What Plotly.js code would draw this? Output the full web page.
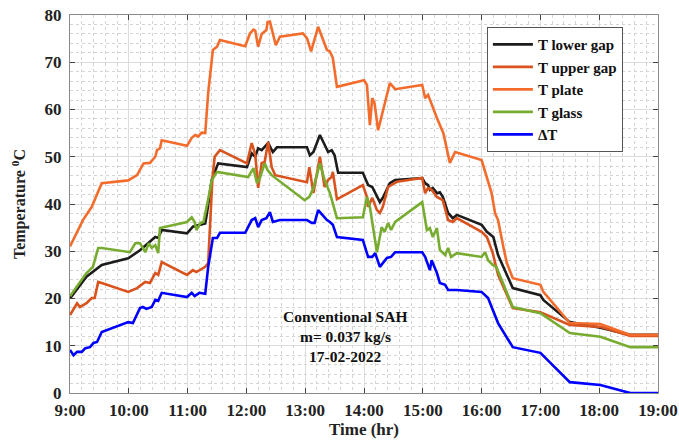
<!DOCTYPE html>
<html>
<head>
<meta charset="utf-8">
<script src="https://cdn.plot.ly/plotly-3.0.1.min.js"></script>
<style>html,body{margin:0;padding:0;background:#fff;}#chart{width:679px;height:441px;}</style>
</head>
<body>
<div id="chart"></div>
<script>
// Time in decimal hours
const tickVals = [9,10,11,12,13,14,15,16,17,18,19];
const tickText = ["9:00","10:00","11:00","12:00","13:00","14:00","15:00","16:00","17:00","18:00","19:00"];

const lowerX = [9.0,9.28,9.54,9.99,10.19,10.45,10.5,10.56,10.99,11.09,11.3,11.33,11.41,11.52,12.01,12.09,12.15,12.2,12.26,12.37,12.45,12.52,13.03,13.08,13.14,13.25,13.39,13.45,13.5,13.56,13.98,14.07,14.14,14.22,14.27,14.32,14.44,14.53,14.99,15.04,15.09,15.12,15.17,15.24,15.29,15.34,15.43,15.51,15.58,16.0,16.09,16.2,16.28,16.53,17.0,17.05,17.5,18.02,18.53,19.0];
const lowerY = [20,24.6,27.1,28.5,30.2,33,32.8,34.5,33.8,35.2,35.9,38.1,45.1,48.6,47.8,50.7,50,51.8,51.4,52.9,51,52,52,50.3,51,54.6,51,51.4,50.3,46.6,46.6,44,43.6,41.5,40.4,41.3,44.4,45.1,45.5,44.4,44,43,43.4,42.3,42.5,41.5,38.1,37,37.7,35.6,34.1,33,29.2,22.2,20.7,19.7,15,13.8,12.3,12.3];

const upperX = [9.0,9.05,9.12,9.17,9.28,9.37,9.42,9.48,9.54,9.99,10.14,10.28,10.36,10.45,10.5,10.56,10.99,11.09,11.15,11.3,11.35,11.42,11.46,11.55,12.01,12.09,12.15,12.2,12.26,12.31,12.37,12.43,12.49,13.03,13.07,13.14,13.25,13.33,13.39,13.45,13.47,13.54,13.98,14.05,14.07,14.14,14.22,14.27,14.32,14.41,14.56,14.99,15.04,15.09,15.15,15.24,15.34,15.43,15.51,15.58,16.0,16.09,16.19,16.28,16.53,17.0,17.5,18.02,18.53,19.0];
const upperY = [16.5,17.6,19.0,18.2,19.0,20.1,20.1,23.5,23.3,21.4,22.2,23.5,23.3,25.4,25,27.7,25,26,25.6,26.7,27.5,45,50,51.4,48.6,52.9,50.5,43.4,48.7,48.9,53.1,47.8,46.1,44.6,47.8,42.3,50,43.6,45.1,45.7,46.8,41,44,41.5,39.4,41.3,38.7,38.1,39.4,43.6,44.7,45.5,42.3,43.4,43,41.5,40.8,36.6,36.2,37,34.1,33,29.6,25,18,17.1,14.4,14,12.1,12.1];

const plateX = [9.0,9.22,9.37,9.54,9.99,10.14,10.25,10.36,10.45,10.48,10.53,10.56,10.99,11.07,11.13,11.18,11.24,11.3,11.35,11.43,11.5,11.55,11.98,12.06,12.12,12.15,12.2,12.26,12.34,12.36,12.4,12.5,12.57,12.96,13.03,13.1,13.22,13.37,13.42,13.47,13.54,14.0,14.05,14.1,14.14,14.18,14.24,14.3,14.44,14.53,14.99,15.04,15.09,15.24,15.35,15.46,15.55,16.0,16.09,16.17,16.23,16.28,16.37,16.43,16.53,17.0,17.05,17.5,18.02,18.53,19.0];
const plateY = [31,36.6,39.4,44.4,45,46.1,48.6,48.7,50,51.4,51.8,53.5,52.3,54,54.6,54.3,55.1,55,63.5,72.6,73.3,74.7,73.4,76.1,76.9,76.7,73.3,76,76.8,78.5,78.6,73.6,75.4,76.1,75.1,72.3,77.5,72.6,72.3,70.9,64.8,66.2,65.2,56.7,62.4,61.3,55.6,58.8,65.6,64.3,65.2,62.4,63.1,58.2,55,48.7,51,49.3,45.7,42.3,38,36.6,30.9,27.5,24.3,22.9,21.4,14.8,14.6,12.3,12.3];

const glassX = [9.0,9.28,9.39,9.48,9.54,10.02,10.11,10.19,10.28,10.34,10.39,10.45,10.5,10.53,10.99,11.07,11.12,11.15,11.22,11.27,11.35,11.41,11.5,12.03,12.12,12.18,12.23,12.31,12.36,12.43,12.99,13.07,13.14,13.25,13.33,13.42,13.54,13.98,14.05,14.1,14.22,14.3,14.35,14.41,14.46,14.53,14.99,15.07,15.12,15.17,15.24,15.29,15.38,15.43,15.48,15.58,16.0,16.06,16.11,16.19,16.25,16.53,17.0,17.5,18.02,18.53,19.0];
const glassY = [20.5,25.4,26.7,30.7,30.7,29.8,31.7,31.7,29.8,31.7,30.7,31.3,29.6,34.9,36.2,37.2,36.2,34.5,36,36.2,41,45,46.8,45.7,47.6,44.4,45.5,48.6,47.2,46.1,40.8,41.5,43.4,48.6,45.1,42.3,37,37.2,41.5,39.4,29.8,35.1,34.1,36,34.5,36.2,40.4,34.5,34.9,33,34.9,30.3,29.2,30.7,28.8,29.6,28.8,29.8,28.1,27.1,26.7,18.2,16.9,12.7,11.9,9.7,9.7];

const dtX = [9.0,9.03,9.06,9.12,9.2,9.26,9.34,9.4,9.46,9.54,9.99,10.07,10.19,10.24,10.3,10.39,10.45,10.5,10.56,10.99,11.07,11.12,11.2,11.3,11.35,11.43,11.5,11.55,11.98,12.09,12.15,12.2,12.26,12.34,12.4,12.45,12.57,13.03,13.11,13.16,13.22,13.37,13.42,13.47,13.54,13.98,14.07,14.14,14.19,14.27,14.39,14.46,14.53,14.99,15.04,15.12,15.15,15.24,15.29,15.38,15.43,15.58,16.0,16.11,16.28,16.53,17.0,17.5,18.02,18.4,18.53,19.0];
const dtY = [9.1,8.5,8.0,8.7,8.7,9.5,9.7,10.6,10.8,12.9,15,14.8,18,18.2,17.8,18.2,19.7,19.5,21.2,20.3,21.2,20.5,21.2,21,26.7,32.8,32.8,33.9,33.9,36.6,37,35.1,36.6,37,38.3,36.2,36.6,36.6,36,36,38.7,36.6,36.2,35.6,33,32.4,28.8,28.8,29.6,26.7,28.6,28.8,29.8,29.8,28.8,26,28.1,25.4,23.3,22.9,21.8,21.8,21.4,20.1,14.8,9.7,8.5,2.3,1.7,0.4,0,0];

const names = ["T lower gap","T upper gap","T plate","T glass","ΔT"];
const colors = ["#1c1c1c","#D9531E","#F36C2C","#77AC30","#0000FF"];
const xs = [lowerX, upperX, plateX, glassX, dtX];
const ys = [lowerY, upperY, plateY, glassY, dtY];

const noteLines = ["Conventional SAH","m= 0.037 kg/s","17-02-2022"];
const noteX = 13.68;
const noteY = [16.2, 12.0, 7.8];

const traces = names.map((n,i)=>({
  x: xs[i], y: ys[i], name: n, type: 'scatter', mode: 'lines',
  line: {color: colors[i], width: 2.6}
}));

const serif = "Liberation Serif, Times New Roman, serif";
const gridMinor = {showgrid: true, gridcolor: '#d4d4d4', griddash: 'dot', gridwidth: 1, ticks: ''};

const layout = {
  width: 679, height: 441,
  margin: {l: 70, r: 21, t: 15, b: 48},
  paper_bgcolor: '#fff', plot_bgcolor: '#fff',
  showlegend: true,
  legend: {
    x: 0.709, y: 0.968, xanchor: 'left', yanchor: 'top',
    bgcolor: '#fff', bordercolor: '#555', borderwidth: 1,
    font: {family: serif, size: 15, color: '#111', weight: 'bold'},
    itemwidth: 40, tracegroupgap: 0
  },
  xaxis: {
    range: [9, 19], tickvals: tickVals, ticktext: tickText,
    showline: true, mirror: 'ticks', linecolor: '#8a8a8a', linewidth: 1,
    ticks: 'inside', ticklen: 5, tickcolor: '#444',
    showgrid: true, gridcolor: '#dcdcdc', gridwidth: 1, zeroline: false,
    tickfont: {family: serif, size: 17, color: '#222', weight: 'bold'},
    ticklabelstandoff: 2,
    title: {text: 'Time (hr)', font: {family: serif, size: 17, color: '#222', weight: 'bold'}, standoff: 2},
    minor: Object.assign({dtick: 0.2}, gridMinor)
  },
  yaxis: {
    range: [0, 80], dtick: 10,
    showline: true, mirror: 'ticks', linecolor: '#8a8a8a', linewidth: 1,
    ticks: 'inside', ticklen: 5, tickcolor: '#444',
    showgrid: true, gridcolor: '#dcdcdc', gridwidth: 1, zeroline: false,
    tickfont: {family: serif, size: 17, color: '#222', weight: 'bold'},
    ticklabelstandoff: 4,
    title: {text: 'Temperature <sup>0</sup>C', font: {family: serif, size: 16, color: '#222', weight: 'bold'}, standoff: 14},
    minor: Object.assign({dtick: 2}, gridMinor)
  },
  annotations: noteLines.map((t,i)=>({
    x: noteX, y: noteY[i], xref: 'x', yref: 'y', showarrow: false,
    text: t, align: 'center',
    font: {family: serif, size: 15.5, color: '#111', weight: 'bold'}
  }))
};

Plotly.newPlot('chart', traces, layout, {displayModeBar: false, staticPlot: true});
</script>
</body>
</html>
